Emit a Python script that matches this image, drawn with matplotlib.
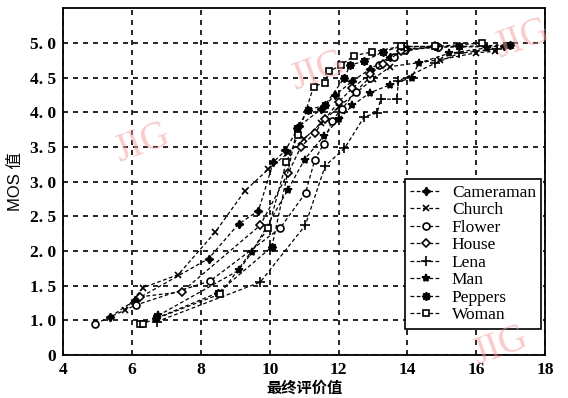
import matplotlib
matplotlib.use("Agg")
import matplotlib.pyplot as plt

# ---------------- data ----------------
series_names = ["Cameraman", "Church", "Flower", "House", "Lena", "Man", "Peppers", "Woman"]

cameraman_x = [5.36, 6.08, 8.22, 9.09, 9.67, 10.10, 10.45, 10.85, 11.50, 11.90, 12.40, 12.90, 13.50, 14.00, 14.90, 16.80]
cameraman_y = [1.05, 1.29, 1.89, 2.39, 2.58, 3.28, 3.45, 3.80, 4.05, 4.25, 4.45, 4.62, 4.80, 4.92, 4.94, 4.95]

church_x = [5.79, 6.31, 7.34, 8.41, 9.28, 9.96, 10.54, 11.00, 11.50, 12.00, 12.50, 13.00, 13.50, 14.96, 16.00, 16.54]
church_y = [1.15, 1.47, 1.66, 2.27, 2.87, 3.18, 3.42, 3.62, 3.85, 4.08, 4.28, 4.48, 4.66, 4.76, 4.86, 4.88]

flower_x = [4.93, 6.10, 8.27, 10.30, 11.04, 11.31, 11.57, 11.80, 12.10, 12.50, 12.90, 13.17, 13.60, 13.90, 14.90]
flower_y = [0.95, 1.22, 1.57, 2.33, 2.84, 3.32, 3.55, 3.88, 4.05, 4.30, 4.50, 4.69, 4.80, 4.90, 4.94]

house_x = [6.23, 7.44, 9.72, 10.54, 10.90, 11.30, 11.60, 12.00, 12.40, 12.90, 13.30, 13.80, 14.80]
house_y = [1.34, 1.41, 2.37, 3.13, 3.50, 3.70, 3.90, 4.15, 4.35, 4.55, 4.70, 4.88, 4.95]

lena_x = [6.71, 9.72, 11.03, 11.61, 12.17, 12.75, 13.12, 13.22, 13.70, 13.73, 14.81, 15.50, 16.60]
lena_y = [0.98, 1.55, 2.37, 3.23, 3.48, 3.94, 3.99, 4.19, 4.19, 4.45, 4.71, 4.85, 4.92]

man_x = [6.76, 9.09, 9.48, 10.52, 11.01, 11.57, 12.00, 12.40, 12.90, 13.50, 14.12, 14.33, 15.20, 16.30]
man_y = [1.07, 1.72, 1.98, 2.88, 3.32, 3.66, 3.90, 4.10, 4.28, 4.40, 4.50, 4.71, 4.85, 4.93]

peppers_x = [6.70, 8.50, 10.06, 10.80, 11.12, 11.60, 12.17, 12.33, 12.75, 13.28, 13.80, 14.80, 15.50, 16.97]
peppers_y = [1.03, 1.40, 2.06, 3.78, 4.04, 4.10, 4.50, 4.68, 4.74, 4.87, 4.95, 4.95, 4.95, 4.97]

woman_x = [6.23, 6.30, 8.56, 9.96, 10.48, 10.83, 11.27, 11.59, 11.73, 12.06, 12.46, 12.96, 13.80, 14.80, 16.18]
woman_y = [0.95, 0.95, 1.38, 2.33, 3.28, 3.68, 4.37, 4.43, 4.59, 4.68, 4.82, 4.87, 4.95, 4.95, 5.00]

x_ticks = [4, 6, 8, 10, 12, 14, 16, 18]
y_ticks = [0.5, 1.0, 1.5, 2.0, 2.5, 3.0, 3.5, 4.0, 4.5, 5.0]
y_tick_labels = ["0", "1. 0", "1. 5", "2. 0", "2. 5", "3. 0", "3. 5", "4. 0", "4. 5", "5. 0"]

# ---------------- figure ----------------
fig = plt.figure(figsize=(5.68, 3.98), dpi=100)
ax = fig.add_axes([0.1116, 0.108, 0.848, 0.871])

xs = [cameraman_x, church_x, flower_x, house_x, lena_x, man_x, peppers_x, woman_x]
ys = [cameraman_y, church_y, flower_y, house_y, lena_y, man_y, peppers_y, woman_y]
styles = [
    dict(marker=(4, 1, 0), ms=6, mfc="black"),
    dict(marker="x", ms=5, mfc="black"),
    dict(marker="o", ms=5, mfc="white"),
    dict(marker="D", ms=4, mfc="white"),
    dict(marker="+", ms=7, mfc="black"),
    dict(marker="*", ms=6, mfc="black"),
    dict(marker=(8, 1, 0), ms=6, mfc="black"),
    dict(marker="s", ms=5, mfc="white"),
]

for name, x, y, st in zip(series_names, xs, ys, styles):
    ax.plot(x, y, color="black", linestyle=(0, (3, 2)), linewidth=0.9,
            mec="black", mew=1.2, label=name, **st)

ax.set_xlim(4, 18)
ax.set_ylim(0.5, 5.5)
ax.set_xticks(x_ticks)
ax.set_xticklabels([str(t) for t in x_ticks])
ax.set_yticks(y_ticks)
ax.set_yticklabels(y_tick_labels)
ax.tick_params(length=0, pad=5)
for lab in ax.get_xticklabels() + ax.get_yticklabels():
    lab.set_family("Liberation Serif")
    lab.set_fontsize(12.5)
    lab.set_fontweight("bold")

ax.grid(True, color="black", linestyle=(0, (3, 3)), linewidth=1.2)
ax.set_axisbelow(True)
for sp in ax.spines.values():
    sp.set_linewidth(1.3)
    sp.set_color("black")

ax.set_ylabel("MOS 值", family=["Liberation Sans", "Noto Sans CJK SC"], fontsize=12, labelpad=5)
ax.set_xlabel("最终评价值", family=["Noto Sans CJK SC", "DejaVu Sans"], fontsize=11,
              fontweight="bold", labelpad=1)

leg = ax.legend(loc="lower right", bbox_to_anchor=(0.992, 0.076), frameon=True, fancybox=False,
                edgecolor="black", framealpha=1, prop={"family": "Liberation Serif", "size": 12.5},
                handlelength=1.8, labelspacing=0.08, borderpad=0.3, handletextpad=0.6,
                borderaxespad=0)
leg.get_frame().set_linewidth(1.2)

# watermarks
wm = dict(color="#f5a0a0", alpha=0.55, family="Liberation Serif", fontsize=28,
          ha="center", va="center", zorder=0)
fig.text(0.25, 0.64, "JIG", rotation=20, transform=fig.transFigure, **wm)
fig.text(0.56, 0.82, "JIG", rotation=20, transform=fig.transFigure, **wm)
fig.text(0.92, 0.90, "JIG", rotation=20, transform=fig.transFigure, **wm)
fig.text(0.88, 0.13, "JIG", rotation=20, transform=fig.transFigure, **wm)

fig.savefig("out.png", dpi=100)
